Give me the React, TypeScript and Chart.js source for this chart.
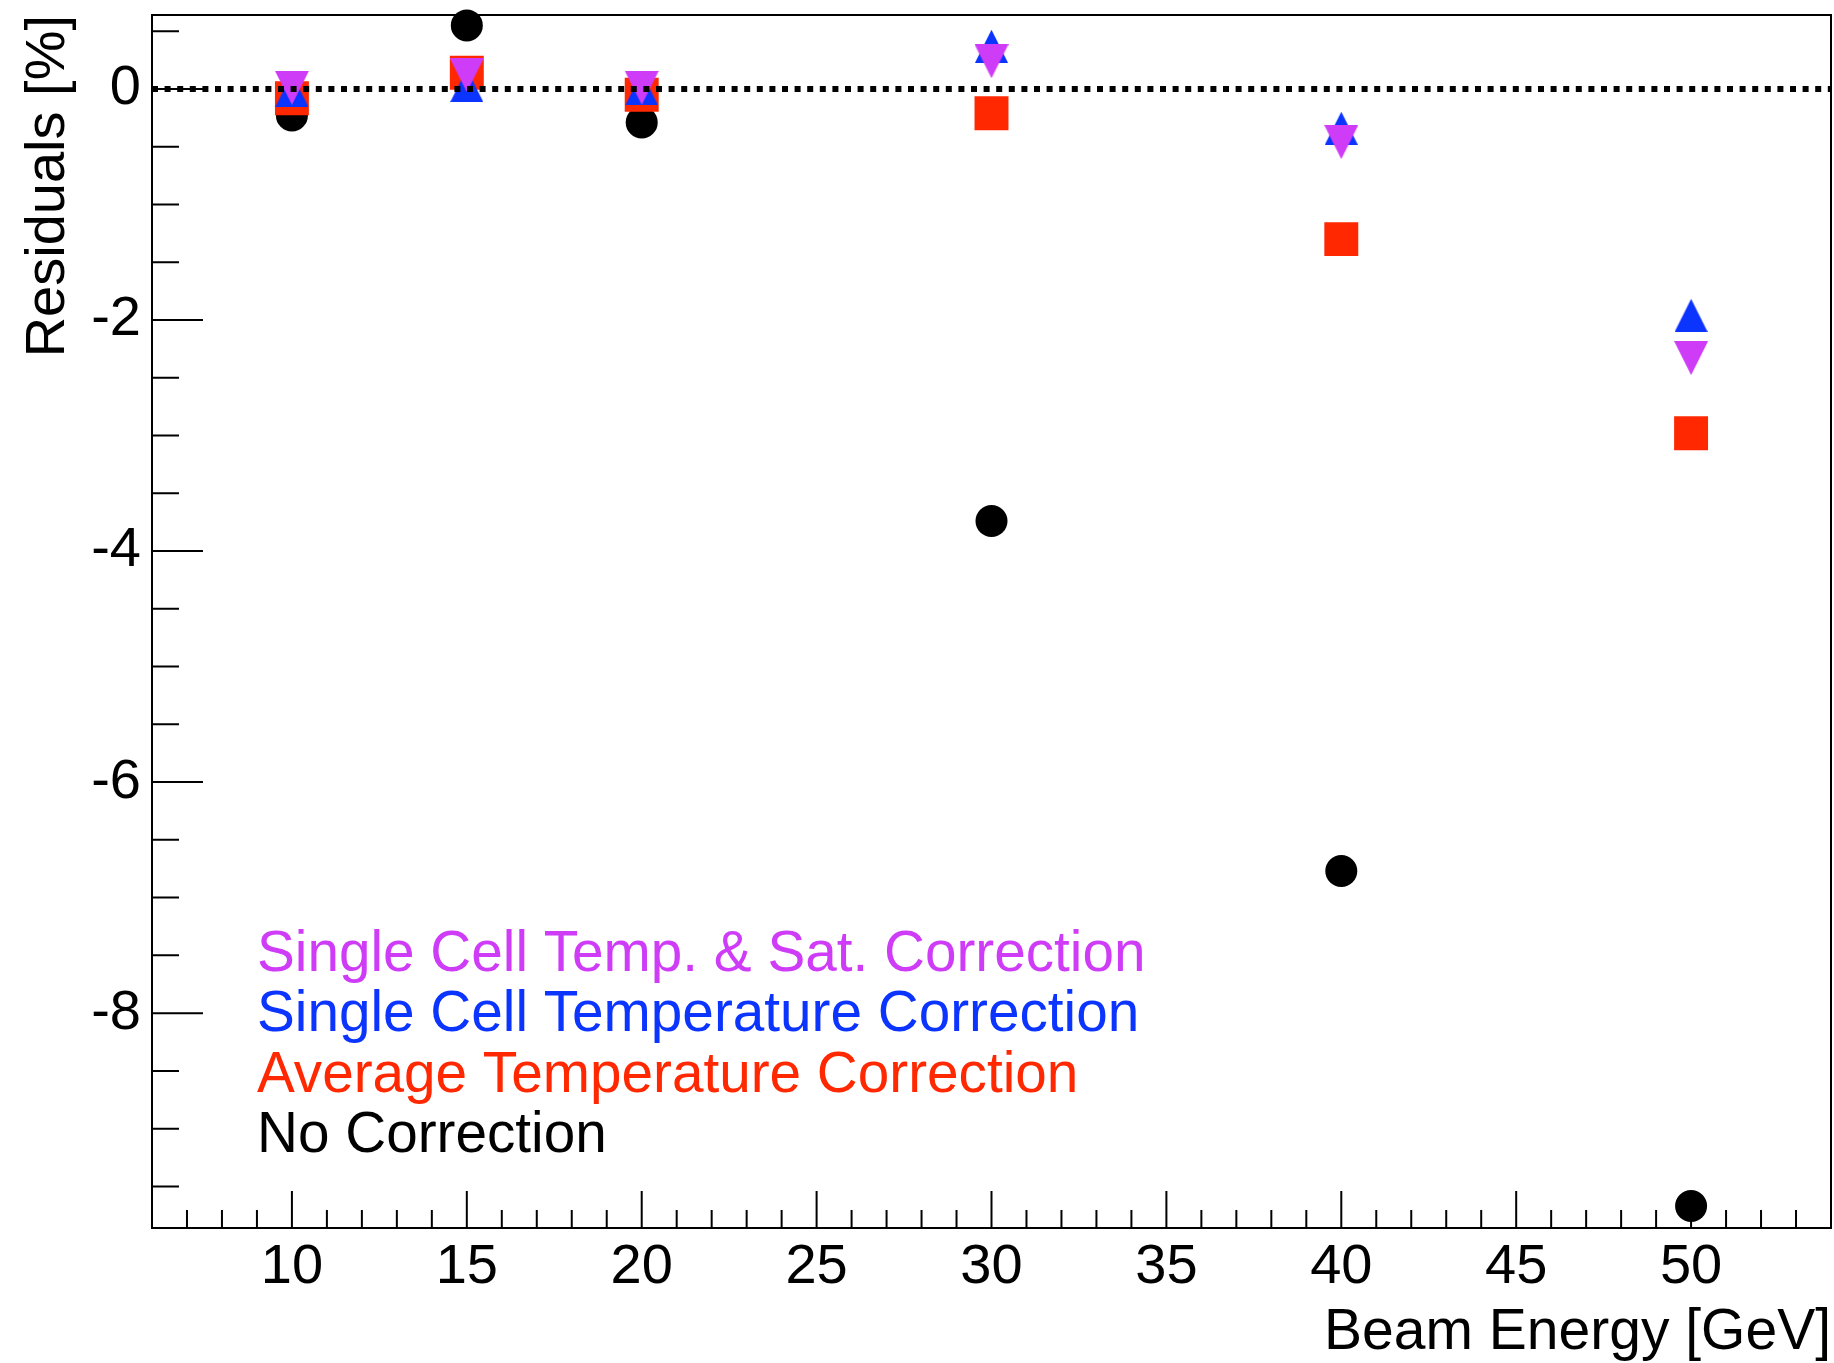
import { useEffect, useRef } from "react";
import { Chart, registerables } from "chart.js";

Chart.register(...registerables);

// Beam energies (GeV) at which the residuals were measured
const energies = [10, 15, 20, 30, 40, 50];

// Residuals [%] per correction method
const singleCellTempSat = [0.01, 0.12, 0.01, 0.24, -0.46, -2.33];
const singleCellTemp = [-0.01, 0.03, 0.0, 0.37, -0.34, -1.96];
const averageTemp = [-0.08, 0.14, -0.05, -0.21, -1.3, -2.98];
const noCorrection = [-0.23, 0.55, -0.29, -3.74, -6.77, -9.67];

const seriesLabels = [
  "Single Cell Temp. & Sat. Correction",
  "Single Cell Temperature Correction",
  "Average Temperature Correction",
  "No Correction",
];

// Axis ranges and labelled ticks
const xRange = [6, 54];
const yRange = [-9.86, 0.64];
const xTickValues = [10, 15, 20, 25, 30, 35, 40, 45, 50];
const yTickValues = [0, -2, -4, -6, -8];
const X_MINOR_STEP = 1;
const Y_MINOR_STEP = 0.5;

const COLORS = {
  magenta: "#cf3cf7",
  blue: "#0b34ff",
  red: "#ff2800",
  black: "#000000",
};

const FONT = "'Liberation Sans', Arial, Helvetica, sans-serif";
const W = 1834;
const H = 1363;

function makeTriangle(color: string, size: number, up: boolean) {
  const c = document.createElement("canvas");
  c.width = size;
  c.height = size;
  const g = c.getContext("2d")!;
  g.fillStyle = color;
  g.beginPath();
  if (up) {
    g.moveTo(size / 2, 0);
    g.lineTo(size, size);
    g.lineTo(0, size);
  } else {
    g.moveTo(0, 0);
    g.lineTo(size, 0);
    g.lineTo(size / 2, size);
  }
  g.closePath();
  g.fill();
  return c;
}

const toPoints = (ys: number[]) => energies.map((x, i) => ({ x, y: ys[i] }));

// Frame plus inward-pointing major/minor ticks, drawn beneath the markers
const frameAndTicks = {
  id: "frameAndTicks",
  beforeDatasetsDraw(chart: any) {
    const { ctx, chartArea: a, scales } = chart;
    const xs = scales.x;
    const ys = scales.y;
    ctx.save();
    ctx.strokeStyle = "#000";
    ctx.lineWidth = 2;
    ctx.beginPath();
    for (let v = Math.ceil(xRange[0] + 1e-9); v < xRange[1]; v += X_MINOR_STEP) {
      const px = xs.getPixelForValue(v);
      const len = xTickValues.includes(v) ? 37 : 18;
      ctx.moveTo(px, a.bottom);
      ctx.lineTo(px, a.bottom - len);
    }
    for (let v = Math.ceil(yRange[0] / Y_MINOR_STEP) * Y_MINOR_STEP; v < yRange[1]; v += Y_MINOR_STEP) {
      const py = ys.getPixelForValue(v);
      const len = yTickValues.includes(v) ? 51 : 27;
      ctx.moveTo(a.left, py);
      ctx.lineTo(a.left + len, py);
    }
    ctx.stroke();
    ctx.strokeRect(a.left, a.top, a.right - a.left, a.bottom - a.top);
    ctx.restore();
  },
};

// Coloured text legend inside the plot area
const textLegend = {
  id: "textLegend",
  afterDraw(chart: any) {
    const { ctx } = chart;
    const items = chart.data.datasets.filter((d: any) => d.label);
    ctx.save();
    ctx.font = `56.7px ${FONT}`;
    ctx.textAlign = "left";
    ctx.textBaseline = "alphabetic";
    items.forEach((d: any, i: number) => {
      ctx.fillStyle = d.legendColor;
      ctx.fillText(d.label, 257, 971 + i * 60.3);
    });
    ctx.restore();
  },
};

export default function App() {
  const canvasRef = useRef<HTMLCanvasElement | null>(null);

  useEffect(() => {
    const canvas = canvasRef.current;
    if (!canvas) return;
    Chart.defaults.font.family = FONT;

    const upBlue = makeTriangle(COLORS.blue, 33, true);
    const downMagenta = makeTriangle(COLORS.magenta, 34, false);

    const chart = new Chart(canvas, {
      type: "scatter",
      data: {
        datasets: [
          {
            type: "line",
            label: "",
            data: xRange.map((x) => ({ x, y: 0 })),
            borderColor: "#000",
            borderWidth: 6,
            borderDash: [6, 6.6],
            pointRadius: 0,
            showLine: true,
            order: 0,
            clip: false,
          } as any,
          {
            label: seriesLabels[0],
            legendColor: COLORS.magenta,
            data: toPoints(singleCellTempSat),
            pointStyle: downMagenta,
            pointRadius: 17,
            backgroundColor: COLORS.magenta,
            borderWidth: 0,
            order: 1,
            clip: false,
          } as any,
          {
            label: seriesLabels[1],
            legendColor: COLORS.blue,
            data: toPoints(singleCellTemp),
            pointStyle: upBlue,
            pointRadius: 17,
            backgroundColor: COLORS.blue,
            borderWidth: 0,
            order: 2,
            clip: false,
          } as any,
          {
            label: seriesLabels[2],
            legendColor: COLORS.red,
            data: toPoints(averageTemp),
            pointStyle: "rect",
            pointRadius: 24,
            backgroundColor: COLORS.red,
            borderWidth: 0,
            order: 3,
            clip: false,
          } as any,
          {
            label: seriesLabels[3],
            legendColor: COLORS.black,
            data: toPoints(noCorrection),
            pointStyle: "circle",
            pointRadius: 16,
            backgroundColor: COLORS.black,
            borderWidth: 0,
            order: 4,
            clip: false,
          } as any,
        ],
      },
      options: {
        responsive: false,
        animation: false,
        events: [],
        layout: { autoPadding: false, padding: { left: 0, top: 15, right: 3, bottom: 0 } },
        plugins: {
          legend: { display: false },
          tooltip: { enabled: false },
        },
        scales: {
          x: {
            type: "linear",
            position: "bottom",
            min: xRange[0],
            max: xRange[1],
            grid: { display: false, drawTicks: false },
            border: { display: false },
            ticks: {
              color: "#000",
              font: { size: 56, lineHeight: 1 },
              padding: 12,
              autoSkip: false,
              maxRotation: 0,
            },
            afterBuildTicks: (s: any) => {
              s.ticks = xTickValues.map((value) => ({ value }));
            },
            afterFit: (s: any) => {
              s.height = H - 1228;
              s.paddingLeft = 0;
              s.paddingRight = 0;
            },
            title: {
              display: true,
              text: "Beam Energy [GeV]",
              align: "end",
              color: "#000",
              font: { size: 57, lineHeight: 1 },
              padding: { top: 0, bottom: 1 },
            },
          },
          y: {
            type: "linear",
            position: "left",
            min: yRange[0],
            max: yRange[1],
            grid: { display: false, drawTicks: false },
            border: { display: false },
            ticks: {
              color: "#000",
              font: { size: 56, lineHeight: 1 },
              padding: 11,
              autoSkip: false,
            },
            afterBuildTicks: (s: any) => {
              s.ticks = yTickValues.map((value) => ({ value }));
            },
            afterFit: (s: any) => {
              s.width = 152;
              s.paddingTop = 0;
              s.paddingBottom = 0;
            },
            title: {
              display: true,
              text: "Residuals [%]",
              align: "end",
              color: "#000",
              font: { size: 56, lineHeight: 1 },
              padding: { top: 21, bottom: 0 },
            },
          },
        },
      },
      plugins: [frameAndTicks, textLegend],
    });

    return () => chart.destroy();
  }, []);

  return (
    <div style={{ position: "absolute", left: 0, top: 0, width: W, height: H, background: "#fff" }}>
      <canvas ref={canvasRef} width={W} height={H} style={{ display: "block", width: W, height: H }} />
    </div>
  );
}
